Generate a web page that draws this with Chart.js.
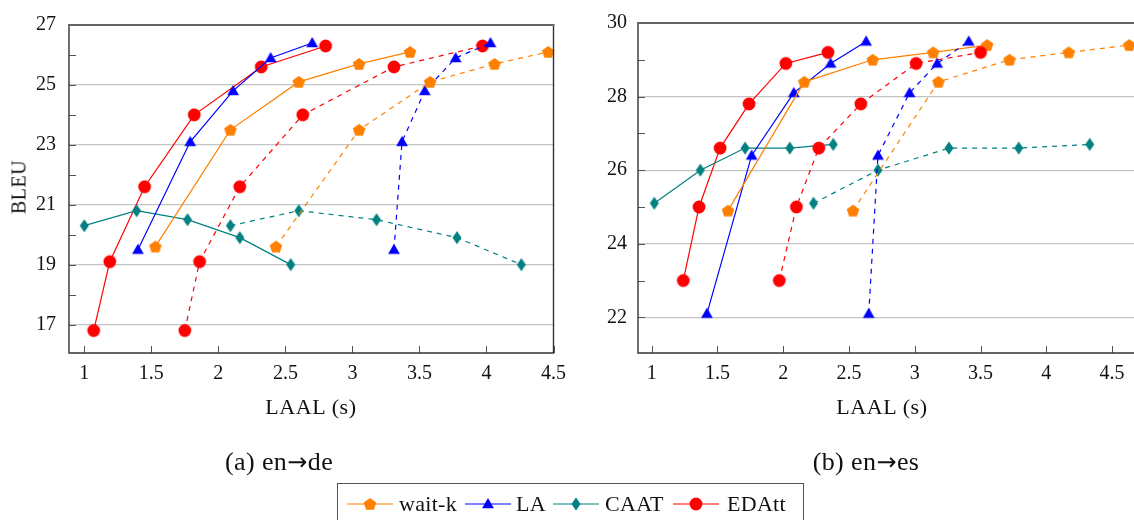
<!DOCTYPE html>
<html lang="en">
<head>
<meta charset="UTF-8">
<title>BLEU vs LAAL</title>
<script src="https://cdnjs.cloudflare.com/ajax/libs/Chart.js/4.4.1/chart.umd.min.js"></script>
<style>
  body { margin: 0; width: 1134px; height: 520px; overflow: hidden; background: #fff;
         font-family: "Liberation Serif", "DejaVu Serif", serif; color: #111; position: relative; }
  .panel { position: absolute; top: 0; height: 400px; }
  #panelA { left: 0; width: 575px; }
  #panelB { left: 570px; width: 590px; }
  .txt { position: absolute; white-space: nowrap; transform: translate(-50%, -50%); }
  .axis { font-size: 22px; letter-spacing: 0.6px; }
  .sub { font-size: 26px; letter-spacing: 0.4px; }
  .arr { font-family: "DejaVu Sans", sans-serif; font-size: 24px; }
  #ylab { left: 19px; top: 187px; font-size: 20px; letter-spacing: 0.5px;
          transform: translate(-50%, -50%) rotate(-90deg); }
  #legend { position: absolute; left: 337px; top: 483px; width: 467px; height: 50px;
            border: 1px solid #555; box-sizing: border-box; }
  #legend canvas, #legend span { position: absolute; }
  #legend span { font-size: 22px; top: 7px; letter-spacing: 0.3px; }
</style>
</head>
<body>
<div class="panel" id="panelB"><canvas id="chartB"></canvas></div>
<div class="panel" id="panelA"><canvas id="chartA"></canvas></div>

<div class="txt" id="ylab">BLEU</div>
<div class="txt axis" style="left:311px; top:407px;">LAAL (s)</div>
<div class="txt axis" style="left:882px; top:407px;">LAAL (s)</div>
<div class="txt sub" style="left:279px; top:462px;">(a) en<span class="arr">→</span>de</div>
<div class="txt sub" style="left:866px; top:462px;">(b) en<span class="arr">→</span>es</div>

<div id="legend"></div>

<script>
// tick values
const xTicks = [1, 1.5, 2, 2.5, 3, 3.5, 4, 4.5];
const yTicksA = [17, 18, 19, 20, 21, 22, 23, 24, 25, 26, 27];
const yLabelsA = [17, 19, 21, 23, 25, 27];
const yTicksB = [22, 23, 24, 25, 26, 27, 28, 29, 30];
const yLabelsB = [22, 24, 26, 28, 30];

// (a) en->de
const deWaitkX     = [1.53, 2.09, 2.60, 3.05, 3.43];
const deWaitkY     = [19.6, 23.5, 25.1, 25.7, 26.1];
const deWaitkDashX = [2.43, 3.05, 3.58, 4.06, 4.46];
const deWaitkDashY = [19.6, 23.5, 25.1, 25.7, 26.1];
const deLaX        = [1.40, 1.79, 2.11, 2.39, 2.70];
const deLaY        = [19.5, 23.1, 24.8, 25.9, 26.4];
const deLaDashX    = [3.31, 3.37, 3.54, 3.77, 4.03];
const deLaDashY    = [19.5, 23.1, 24.8, 25.9, 26.4];
const deCaatX      = [1.00, 1.39, 1.77, 2.16, 2.54];
const deCaatY      = [20.3, 20.8, 20.5, 19.9, 19.0];
const deCaatDashX  = [2.09, 2.60, 3.18, 3.78, 4.26];
const deCaatDashY  = [20.3, 20.8, 20.5, 19.9, 19.0];
const deEdattX     = [1.07, 1.19, 1.45, 1.82, 2.32, 2.80];
const deEdattY     = [16.8, 19.1, 21.6, 24.0, 25.6, 26.3];
const deEdattDashX = [1.75, 1.86, 2.16, 2.63, 3.31, 3.97];
const deEdattDashY = [16.8, 19.1, 21.6, 24.0, 25.6, 26.3];

// (b) en->es
const esWaitkX     = [1.58, 2.16, 2.68, 3.14, 3.55];
const esWaitkY     = [24.9, 28.4, 29.0, 29.2, 29.4];
const esWaitkDashX = [2.53, 3.18, 3.72, 4.17, 4.63];
const esWaitkDashY = [24.9, 28.4, 29.0, 29.2, 29.4];
const esLaX        = [1.42, 1.76, 2.08, 2.36, 2.63];
const esLaY        = [22.1, 26.4, 28.1, 28.9, 29.5];
const esLaDashX    = [2.65, 2.72, 2.96, 3.17, 3.41];
const esLaDashY    = [22.1, 26.4, 28.1, 28.9, 29.5];
const esCaatX      = [1.02, 1.37, 1.71, 2.05, 2.38];
const esCaatY      = [25.1, 26.0, 26.6, 26.6, 26.7];
const esCaatDashX  = [2.23, 2.72, 3.26, 3.79, 4.33];
const esCaatDashY  = [25.1, 26.0, 26.6, 26.6, 26.7];
const esEdattX     = [1.24, 1.36, 1.52, 1.74, 2.02, 2.34];
const esEdattY     = [23.0, 25.0, 26.6, 27.8, 28.9, 29.2];
const esEdattDashX = [1.97, 2.10, 2.27, 2.59, 3.01, 3.50];
const esEdattDashY = [23.0, 25.0, 26.6, 27.8, 28.9, 29.2];

const names = ['wait-k', 'LA', 'CAAT', 'EDAtt'];
const colors = ['#ff8000', '#0000ff', '#008080', '#ff0000'];
const shapes = ['pentagon', 'triangle', 'diamond', 'circle'];

// marker images
function makeMarker(shape, color) {
    const c = document.createElement('canvas');
    c.width = 16; c.height = 16;
    const g = c.getContext('2d');
    g.fillStyle = color;
    g.beginPath();
    if (shape === 'pentagon') {
        for (let k = 0; k < 5; k++) {
            const a = -Math.PI / 2 + k * 2 * Math.PI / 5;
            g.lineTo(8 + 6.6 * Math.cos(a), 8.5 + 6.6 * Math.sin(a));
        }
    } else if (shape === 'triangle') {
        for (let k = 0; k < 3; k++) {
            const a = -Math.PI / 2 + k * 2 * Math.PI / 3;
            g.lineTo(8 + 6.8 * Math.cos(a), 8.8 + 6.8 * Math.sin(a));
        }
    } else if (shape === 'diamond') {
        g.moveTo(8, 1.5); g.lineTo(12.5, 8); g.lineTo(8, 14.5); g.lineTo(3.5, 8);
    } else {
        g.arc(8, 8, 6.4, 0, Math.PI * 2);
    }
    g.closePath();
    g.fill();
    return c;
}
const markers = shapes.map((s, i) => makeMarker(s, colors[i]));

function series(xs, ys, i, dashed) {
    return {
        data: xs.map((x, k) => ({ x: x, y: ys[k] })),
        borderColor: colors[i],
        backgroundColor: colors[i],
        borderWidth: 1.2,
        borderDash: dashed ? [5, 5] : [],
        pointStyle: markers[i],
        pointRadius: 6,
        tension: 0,
        fill: false,
        clip: false
    };
}

// frame + inward tick marks
const framePlugin = {
    id: 'frame',
    afterDatasetsDraw(chart, args, opts) {
        const { ctx, chartArea: a, scales } = chart;
        ctx.save();
        ctx.strokeStyle = '#555';
        ctx.lineWidth = 1;
        opts.yTicks.forEach(v => {
            const y = Math.round(scales.y.getPixelForValue(v)) + 0.5;
            ctx.beginPath(); ctx.moveTo(a.left, y); ctx.lineTo(a.left + 7, y); ctx.stroke();
        });
        xTicks.forEach(v => {
            const x = Math.round(scales.x.getPixelForValue(v)) + 0.5;
            ctx.beginPath(); ctx.moveTo(x, a.bottom); ctx.lineTo(x, a.bottom - 7); ctx.stroke();
        });
        ctx.strokeStyle = '#333';
        ctx.lineWidth = 1.4;
        ctx.beginPath();
        ctx.moveTo(a.left, a.top); ctx.lineTo(a.left, a.bottom);
        ctx.lineTo(a.right, a.bottom); ctx.lineTo(a.right, a.top);
        ctx.stroke();
        ctx.strokeStyle = '#666';
        ctx.lineWidth = 2;
        ctx.beginPath(); ctx.moveTo(a.left - 1, a.top); ctx.lineTo(a.right + 1, a.top); ctx.stroke();
        ctx.restore();
    }
};

function makeChart(id, datasets, xMin, xMax, yMin, yMax, yTicks, yLabels, yWidth, padRight, labelPad) {
    new Chart(document.getElementById(id), {
        type: 'line',
        data: { datasets: datasets },
        plugins: [framePlugin],
        options: {
            responsive: true,
            maintainAspectRatio: false,
            animation: false,
            layout: { padding: { left: 0, top: 20, right: padRight, bottom: 0 } },
            plugins: { legend: { display: false }, tooltip: { enabled: false }, frame: { yTicks: yTicks } },
            scales: {
                x: {
                    type: 'linear', min: xMin, max: xMax,
                    afterBuildTicks: s => { s.ticks = xTicks.map(v => ({ value: v })); },
                    afterFit: s => { s.height = 47; },
                    grid: { display: false, drawTicks: false },
                    border: { display: false },
                    ticks: { padding: 9, color: '#111', maxRotation: 0,
                             font: { family: 'Liberation Serif', size: 20 },
                             callback: v => String(v) }
                },
                y: {
                    type: 'linear', min: yMin, max: yMax,
                    afterBuildTicks: s => { s.ticks = yTicks.map(v => ({ value: v })); },
                    afterFit: s => { s.width = yWidth; },
                    grid: { drawTicks: false, lineWidth: 1.2,
                            color: c => yLabels.includes(c.tick.value) ? '#c4c4c4' : 'rgba(0,0,0,0)' },
                    border: { display: false },
                    ticks: { padding: labelPad, color: '#111',
                             font: { family: 'Liberation Serif', size: 20 },
                             callback: v => yLabels.includes(v) ? String(v) : '' }
                }
            }
        }
    });
}

makeChart('chartA', [
    series(deWaitkDashX, deWaitkDashY, 0, true),
    series(deLaDashX, deLaDashY, 1, true),
    series(deCaatDashX, deCaatDashY, 2, true),
    series(deEdattDashX, deEdattDashY, 3, true),
    series(deWaitkX, deWaitkY, 0, false),
    series(deLaX, deLaY, 1, false),
    series(deCaatX, deCaatY, 2, false),
    series(deEdattX, deEdattY, 3, false)
], 0.886, 4.5, 16.05, 27, yTicksA, yLabelsA, 69, 11, 13);

makeChart('chartB', [
    series(esWaitkDashX, esWaitkDashY, 0, true),
    series(esLaDashX, esLaDashY, 1, true),
    series(esCaatDashX, esCaatDashY, 2, true),
    series(esEdattDashX, esEdattDashY, 3, true),
    series(esWaitkX, esWaitkY, 0, false),
    series(esLaX, esLaY, 1, false),
    series(esCaatX, esCaatY, 2, false),
    series(esEdattX, esEdattY, 3, false)
], 0.896, 4.75, 21.03, 30, yTicksB, yLabelsB, 68, 15, 11);

// legend
const legend = document.getElementById('legend');
const swatchLeft = [9, 127, 215, 335];
const textLeft = [61, 178, 267, 389];
names.forEach((n, i) => {
    const c = document.createElement('canvas');
    c.width = 46; c.height = 16;
    c.style.left = swatchLeft[i] + 'px';
    c.style.top = '12px';
    const g = c.getContext('2d');
    g.strokeStyle = colors[i];
    g.lineWidth = 1.2;
    g.beginPath(); g.moveTo(0, 8); g.lineTo(46, 8); g.stroke();
    g.drawImage(markers[i], 23 - 8, 0);
    legend.appendChild(c);
    const t = document.createElement('span');
    t.textContent = n;
    t.style.left = textLeft[i] + 'px';
    legend.appendChild(t);
});
</script>
</body>
</html>
